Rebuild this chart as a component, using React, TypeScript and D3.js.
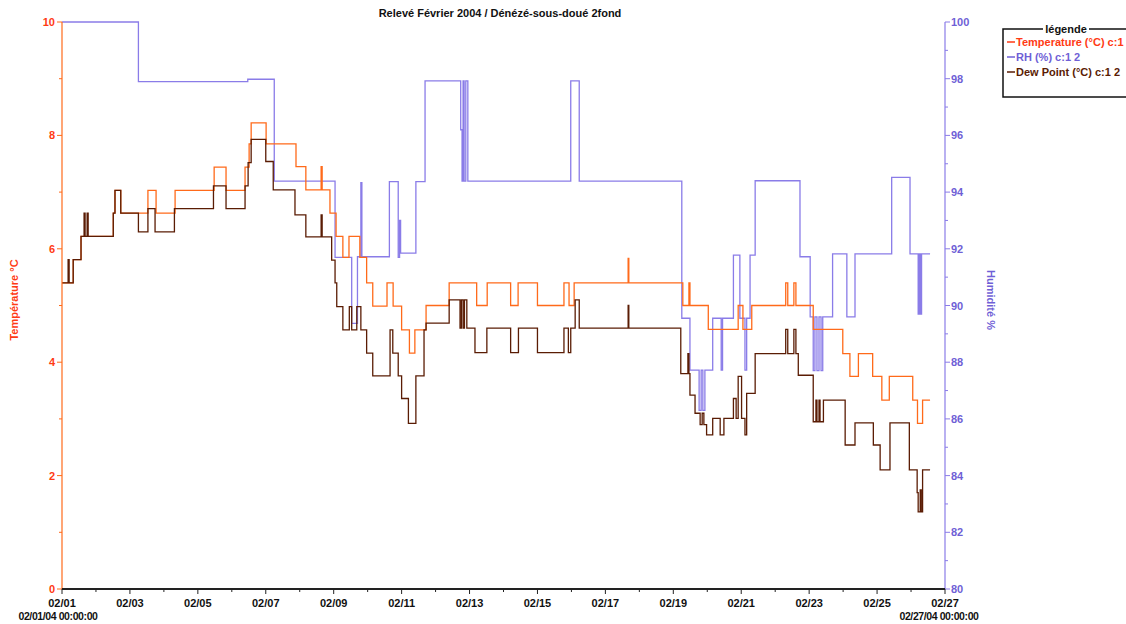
import React from "react";
import * as d3 from "d3";

// ---- data (day offset from 02/01/04 00:00, value) ----
const temperature: [number, number][] = [
  [0, 5.4], [0.33, 5.81], [0.56, 6.22], [1.51, 6.63], [1.56, 7.03], [1.73, 6.63],
  [2.53, 7.03], [2.77, 6.63], [3.33, 7.03], [4.48, 7.44], [4.83, 7.03], [5.39, 7.44],
  [5.51, 7.85], [5.57, 8.22], [6.01, 7.85], [6.89, 7.45], [7.18, 7.04], [7.63, 7.45],
  [7.66, 7.04], [7.89, 6.63], [8.07, 6.22], [8.27, 5.85], [8.45, 6.22], [8.77, 5.85],
  [8.97, 5.4], [9.15, 4.99], [9.57, 5.4], [9.75, 4.99], [10.0, 4.57], [10.23, 4.16],
  [10.39, 4.57], [10.72, 5.0], [11.4, 5.4], [12.21, 5.0], [12.52, 5.4], [13.21, 5.0],
  [13.43, 5.4], [14.0, 5.0], [14.78, 5.4], [14.93, 5.0], [15.08, 5.4], [16.67, 5.83],
  [16.69, 5.4], [18.28, 5.0], [18.46, 5.4], [18.49, 5.0], [19.03, 4.58], [19.91, 5.0],
  [20.05, 4.58], [20.31, 5.0], [21.31, 5.4], [21.37, 5.0], [21.55, 5.4], [21.61, 5.0],
  [22.12, 4.58], [22.99, 4.15], [23.2, 3.75], [23.45, 4.15], [23.87, 3.75], [24.14, 3.33],
  [24.36, 3.75], [25.05, 3.33], [25.19, 2.92], [25.34, 3.33], [25.56, 3.33],
];

const humidity: [number, number][] = [
  [0, 100], [2.25, 97.9], [5.47, 97.98], [6.25, 94.39], [8.04, 91.7], [8.53, 89.37],
  [8.7, 91.72], [8.8, 94.33], [8.83, 91.72], [9.64, 94.37], [9.9, 91.7], [9.94, 93.0],
  [9.97, 91.85], [10.42, 94.37], [10.69, 97.92], [11.74, 96.2], [11.78, 94.39],
  [11.81, 97.92], [11.84, 94.39], [11.89, 97.92], [11.95, 94.39], [14.98, 97.92],
  [15.23, 94.39], [18.25, 89.55], [18.49, 87.72], [18.76, 86.3], [18.82, 87.72],
  [18.87, 86.3], [18.93, 87.72], [19.16, 89.55], [19.41, 87.72], [19.45, 89.55],
  [19.77, 91.78], [19.96, 89.55], [20.11, 87.72], [20.16, 89.55], [20.26, 91.78],
  [20.41, 94.4], [21.73, 91.72], [22.03, 89.6], [22.12, 87.7], [22.17, 89.6],
  [22.23, 87.7], [22.29, 89.6], [22.35, 87.7], [22.4, 89.6], [22.69, 91.82],
  [23.11, 89.6], [23.35, 91.82], [24.43, 94.52], [24.97, 91.82], [25.21, 89.7],
  [25.23, 91.82], [25.25, 89.7], [25.27, 91.82], [25.29, 89.7], [25.31, 91.82],
  [25.56, 91.82],
];

const dewPoint: [number, number][] = [
  [0, 5.4], [0.18, 5.81], [0.21, 5.4], [0.33, 5.81], [0.56, 6.22], [0.65, 6.63],
  [0.68, 6.22], [0.74, 6.63], [0.77, 6.22], [1.51, 6.63], [1.56, 7.03], [1.73, 6.63],
  [2.25, 6.3], [2.53, 6.71], [2.74, 6.3], [3.31, 6.71], [4.46, 7.11], [4.83, 6.71],
  [5.39, 7.11], [5.48, 7.52], [5.57, 7.93], [6.0, 7.54], [6.22, 7.04], [6.86, 6.6],
  [7.18, 6.21], [7.63, 6.6], [7.66, 6.21], [7.94, 5.8], [8.04, 5.4], [8.09, 4.98],
  [8.27, 4.57], [8.46, 4.98], [8.53, 4.57], [8.68, 4.98], [8.8, 4.57], [8.97, 4.16],
  [9.15, 3.76], [9.66, 4.57], [9.74, 4.16], [9.9, 3.76], [10.0, 3.36], [10.2, 2.92],
  [10.42, 3.76], [10.66, 4.57], [10.72, 4.69], [11.4, 5.1], [11.72, 4.6], [11.76, 5.1],
  [11.81, 4.6], [11.85, 5.1], [11.92, 4.6], [12.16, 4.17], [12.51, 4.6], [13.21, 4.17],
  [13.44, 4.6], [14.0, 4.17], [14.78, 4.6], [14.91, 4.17], [14.98, 4.6], [15.11, 5.1],
  [15.23, 4.6], [16.67, 5.0], [16.69, 4.6], [18.22, 3.8], [18.43, 4.15], [18.46, 3.8],
  [18.49, 3.42], [18.64, 3.1], [18.79, 2.9], [18.85, 3.1], [18.9, 2.9], [18.98, 2.72],
  [19.16, 3.01], [19.38, 2.72], [19.49, 3.01], [19.77, 3.36], [19.85, 3.01],
  [19.91, 3.75], [20.01, 3.01], [20.11, 2.72], [20.16, 3.45], [20.41, 4.15],
  [21.31, 4.58], [21.37, 4.15], [21.55, 4.58], [21.61, 4.15], [21.68, 3.77],
  [22.12, 2.95], [22.2, 3.33], [22.23, 2.95], [22.29, 3.33], [22.32, 2.95],
  [22.42, 3.33], [23.06, 2.54], [23.35, 2.93], [23.89, 2.54], [24.09, 2.1],
  [24.38, 2.93], [24.95, 2.1], [25.18, 1.7], [25.21, 1.36], [25.27, 1.75],
  [25.3, 1.36], [25.34, 2.1], [25.56, 2.1],
];

const xTickLabels = [
  "02/01", "02/03", "02/05", "02/07", "02/09", "02/11", "02/13",
  "02/15", "02/17", "02/19", "02/21", "02/23", "02/25", "02/27",
];
const tempTicks = [0, 2, 4, 6, 8, 10];
const rhTicks = [80, 82, 84, 86, 88, 90, 92, 94, 96, 98, 100];
const legendItems = ["Temperature (°C) c:1", "RH (%) c:1 2", "Dew Point (°C) c:1 2"];
const startLabel = "02/01/04 00:00:00";
const endLabel = "02/27/04 00:00:00";
const title = "Relevé Février 2004 / Dénézé-sous-doué 2fond";

const C_TEMP = "#ff6a1a";
const C_TEMP_TXT = "#ff3a14";
const C_RH = "#8a7ce8";
const C_RH_TXT = "#6f5fd6";
const C_DEW = "#5a1c04";
const FONT = "'Liberation Sans', Arial, sans-serif";

export default function App() {
  const left = 62, right = 945, top = 22, bottom = 589;
  const x = d3.scaleLinear().domain([0, 26]).range([left, right]);
  const yT = d3.scaleLinear().domain([0, 10]).range([bottom, top]);
  const yH = d3.scaleLinear().domain([80, 100]).range([bottom, top]);

  const lineT = d3.line<[number, number]>().x(d => x(d[0])).y(d => yT(d[1])).curve(d3.curveStepAfter);
  const lineH = d3.line<[number, number]>().x(d => x(d[0])).y(d => yH(d[1])).curve(d3.curveStepAfter);

  const days = d3.range(0, 27);
  const tMinor = d3.range(1, 10, 2);
  const hMinor = d3.range(81, 100, 2);
  const legendColors = [C_TEMP_TXT, C_RH_TXT, C_DEW];

  return (
    <svg width={1126} height={624} style={{ position: "absolute", left: 0, top: 0, background: "#fff" }}
      fontFamily={FONT} fontWeight="bold">
      <rect width={1126} height={624} fill="#fff" />
      <text x={500} y={17} textAnchor="middle" fontSize={11} fill="#111">{title}</text>

      {/* data lines */}
      <path d={lineH(humidity) || ""} fill="none" stroke={C_RH} strokeWidth={1.3} />
      <path d={lineT(temperature) || ""} fill="none" stroke={C_TEMP} strokeWidth={1.3} />
      <path d={lineT(dewPoint) || ""} fill="none" stroke={C_DEW} strokeWidth={1.3} />

      {/* left axis */}
      <line x1={left} x2={left} y1={top} y2={bottom} stroke={C_TEMP} strokeWidth={1.2} />
      {tempTicks.map(t => (
        <g key={"lt" + t}>
          <line x1={left - 5} x2={left} y1={yT(t)} y2={yT(t)} stroke={C_TEMP} />
          <text x={left - 7} y={yT(t) + 4} textAnchor="end" fontSize={11} fill={C_TEMP_TXT}>{t}</text>
        </g>
      ))}
      {tMinor.map(t => (
        <line key={"lm" + t} x1={left - 3} x2={left} y1={yT(t)} y2={yT(t)} stroke={C_TEMP} />
      ))}
      <text transform="translate(18,300) rotate(-90)" textAnchor="middle" fontSize={11} fill={C_TEMP_TXT}>Température °C</text>

      {/* right axis */}
      <line x1={right} x2={right} y1={top} y2={bottom} stroke={C_RH} strokeWidth={1.2} />
      {rhTicks.map(t => (
        <g key={"rt" + t}>
          <line x1={right} x2={right + 5} y1={yH(t)} y2={yH(t)} stroke={C_RH} />
          <text x={right + 6} y={yH(t) + 4} textAnchor="start" fontSize={11} fill={C_RH_TXT}>{t}</text>
        </g>
      ))}
      {hMinor.map(t => (
        <line key={"rm" + t} x1={right} x2={right + 3} y1={yH(t)} y2={yH(t)} stroke={C_RH} />
      ))}
      <text transform="translate(987,300) rotate(90)" textAnchor="middle" fontSize={11} fill={C_RH_TXT}>Humidité %</text>

      {/* x axis */}
      <line x1={left} x2={right} y1={bottom} y2={bottom} stroke="#222" strokeWidth={1.8} />
      {days.map(dd => (
        <line key={"xt" + dd} x1={x(dd)} x2={x(dd)} y1={bottom} y2={bottom + (dd % 2 === 0 ? 5 : 3)} stroke="#222" />
      ))}
      {xTickLabels.map((lab, i) => (
        <text key={"xl" + lab} x={x(i * 2)} y={607} textAnchor="middle" fontSize={11} fill="#111">{lab}</text>
      ))}
      <text x={x(0) - 4} y={620} textAnchor="middle" fontSize={10.5} fill="#111" letterSpacing={-0.4}>{startLabel}</text>
      <text x={x(26) - 6} y={620} textAnchor="middle" fontSize={10.5} fill="#111" letterSpacing={-0.4}>{endLabel}</text>

      {/* legend */}
      <rect x={1003} y={29} width={140} height={68} fill="#fff" stroke="#111" strokeWidth={1.5} />
      <rect x={1043} y={24} width={46} height={10} fill="#fff" />
      <text x={1066} y={33} textAnchor="middle" fontSize={11} fill="#111">légende</text>
      {legendItems.map((lab, i) => (
        <g key={"lg" + i}>
          <line x1={1007} x2={1015} y1={42 + i * 15} y2={42 + i * 15} stroke={legendColors[i]} strokeWidth={1.5} />
          <text x={1016} y={46 + i * 15} fontSize={11} fill={legendColors[i]}>{lab}</text>
        </g>
      ))}
    </svg>
  );
}
